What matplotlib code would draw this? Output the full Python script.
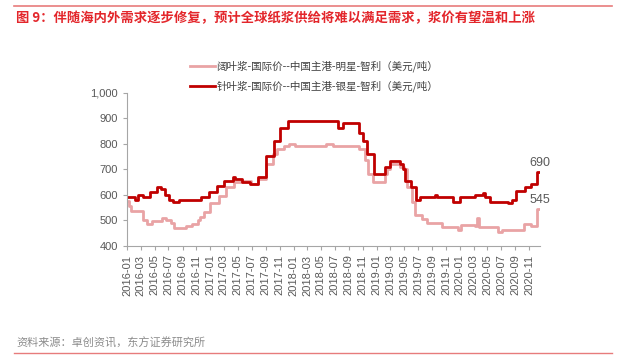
import matplotlib
matplotlib.use("Agg")
import matplotlib.pyplot as plt
from matplotlib.lines import Line2D
import pandas as pd

plt.rcParams['font.family'] = ['Noto Sans CJK SC', 'DejaVu Sans']

# 针叶浆-银星 (change dates / prices, USD/t)
zhen_dates = ['2016-01-01', '2016-02-05', '2016-02-18', '2016-03-10', '2016-04-12',
              '2016-05-10', '2016-05-28', '2016-06-15', '2016-07-05', '2016-07-20',
              '2016-08-16', '2016-11-20', '2016-12-27', '2017-02-01', '2017-02-28',
              '2017-04-10', '2017-04-19', '2017-05-19', '2017-06-24', '2017-07-27',
              '2017-09-01', '2017-10-06', '2017-11-04', '2017-12-06', '2018-07-14',
              '2018-08-06', '2018-10-17', '2018-11-01', '2018-11-20', '2018-12-18',
              '2019-02-06', '2019-02-28', '2019-04-15', '2019-04-28', '2019-05-07',
              '2019-05-30', '2019-06-21', '2019-07-09', '2019-09-16', '2019-09-23',
              '2019-12-01', '2020-01-02', '2020-03-07', '2020-04-12', '2020-04-22',
              '2020-05-12', '2020-08-01', '2020-08-18', '2020-09-05', '2020-10-14',
              '2020-11-06', '2020-12-06', '2020-12-18']
zhen_price = [590, 580, 600, 590, 610,
              630, 620, 600, 580, 570,
              580, 590, 610, 635, 655,
              670, 660, 650, 640, 670,
              750, 810, 860, 890, 860,
              880, 840, 810, 760, 680,
              710, 730, 720, 700, 655,
              630, 580, 590, 600, 590,
              570, 590, 600, 605, 590,
              570, 565, 580, 615, 630,
              640, 690, 690]

# 阔叶浆-明星
kuo_dates = ['2016-01-01', '2016-01-09', '2016-01-18', '2016-03-10', '2016-03-28',
             '2016-04-19', '2016-06-02', '2016-06-22', '2016-07-11', '2016-07-25',
             '2016-09-15', '2016-10-13', '2016-11-09', '2016-11-17', '2016-12-05',
             '2017-01-01', '2017-02-10', '2017-03-11', '2017-04-16', '2017-05-16',
             '2017-06-28', '2017-07-30', '2017-09-02', '2017-10-01', '2017-10-22',
             '2017-11-22', '2017-12-13', '2018-01-06', '2018-05-25', '2018-06-21',
             '2018-10-17', '2018-11-09', '2018-11-22', '2018-12-14', '2019-02-06',
             '2019-02-14', '2019-02-28', '2019-04-12', '2019-04-29', '2019-05-16',
             '2019-06-03', '2019-06-16', '2019-07-17', '2019-08-08', '2019-10-14',
             '2019-12-24', '2020-01-06', '2020-03-07', '2020-03-16', '2020-03-25',
             '2020-06-16', '2020-07-03', '2020-10-10', '2020-11-06', '2020-12-06',
             '2020-12-18']
kuo_price = [575, 555, 535, 500, 483,
             495, 510, 500, 488, 470,
             478, 483, 500, 513, 530,
             565, 595, 630, 650, 655,
             640, 660, 720, 760, 780,
             790, 800, 790, 800, 790,
             780, 735, 680, 650, 680,
             700, 720, 710, 700, 630,
             570, 520, 505, 490, 473,
             462, 480, 475, 510, 472,
             455, 460, 485, 475, 545,
             545]

kuo_label = '阔叶浆-国际价--中国主港-明星-智利（美元/吨）'
zhen_label = '针叶浆-国际价--中国主港-银星-智利（美元/吨）'
title = '图 9：伴随海内外需求逐步修复，预计全球纸浆供给将难以满足需求，浆价有望温和上涨'
source = '资料来源：卓创资讯，东方证券研究所'

zd = pd.to_datetime(zhen_dates)
kd = pd.to_datetime(kuo_dates)

fig = plt.figure(figsize=(6.24, 3.58), dpi=100)
ax = fig.add_axes([0.2035, 0.3142, 0.662, 0.4268])

ax.plot(kd, kuo_price, color='#E9A3A5', lw=2.0, drawstyle='steps-post', label=kuo_label)
ax.plot(zd, zhen_price, color='#C00000', lw=2.0, drawstyle='steps-post', label=zhen_label)

ax.annotate(str(zhen_price[-1]), xy=(zd[-1], zhen_price[-1]), xytext=(0, 2),
            textcoords='offset points', ha='center', va='bottom',
            fontsize=9, color='#595959', family='Liberation Sans')
ax.annotate(str(kuo_price[-1]), xy=(kd[-1], kuo_price[-1]), xytext=(0, 2),
            textcoords='offset points', ha='center', va='bottom',
            fontsize=9, color='#595959', family='Liberation Sans')

ax.set_xlim(pd.Timestamp('2016-01-01'), pd.Timestamp('2020-12-18'))
ax.set_ylim(400, 1000)
ticks = pd.date_range('2016-01-01', '2020-11-01', freq='2MS')
ax.set_xticks(ticks)
ax.set_xticklabels([t.strftime('%Y-%m') for t in ticks], rotation=90,
                   fontsize=8, color='#595959', family='Liberation Sans')
ax.set_yticks(range(400, 1001, 100))
ax.set_yticklabels(['{:,}'.format(v) for v in range(400, 1001, 100)],
                   fontsize=8, color='#595959', family='Liberation Sans')
for s in ['top', 'right']:
    ax.spines[s].set_visible(False)
for s in ['left', 'bottom']:
    ax.spines[s].set_color('#A6A6A6')
    ax.spines[s].set_linewidth(0.8)
ax.tick_params(axis='both', colors='#A6A6A6', length=3, width=0.8)
ax.tick_params(axis='both', labelcolor='#595959')

ax.legend(loc='upper left', bbox_to_anchor=(0.3045, 0.83), bbox_transform=fig.transFigure,
          frameon=False, fontsize=7.6, handlelength=2.4, handletextpad=0.1,
          borderpad=0, borderaxespad=0, labelspacing=0.8, labelcolor='#404040')

fig.text(0.025, 0.95, title, color='#E3262B', fontsize=9.6, weight='bold', va='center')
fig.text(0.027, 0.042, source, color='#8C8C8C', fontsize=8, va='center')
fig.add_artist(Line2D([0.022, 0.98], [0.983, 0.983], color='#E77C7C', lw=1.2))
fig.add_artist(Line2D([0.022, 0.98], [0.014, 0.014], color='#E77C7C', lw=1.0))

fig.savefig('out.png', dpi=100)
